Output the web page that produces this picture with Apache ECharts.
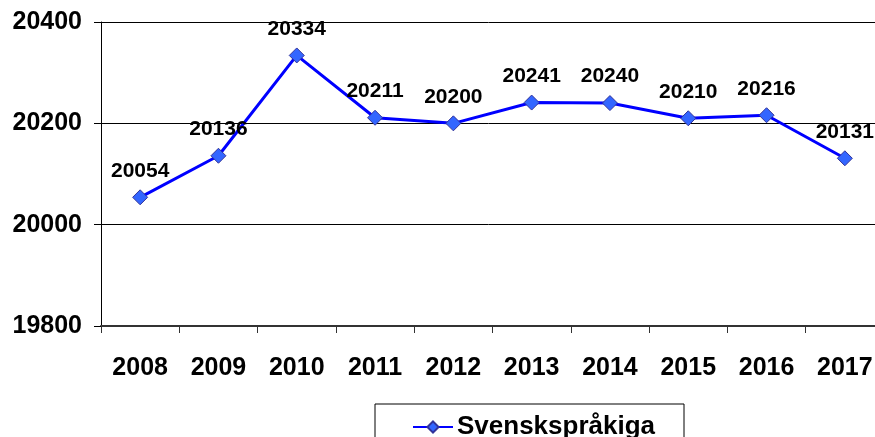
<!DOCTYPE html>
<html>
<head>
<meta charset="utf-8">
<script src="https://cdn.jsdelivr.net/npm/echarts@6/dist/echarts.min.js"></script>
<style>
  html, body { margin: 0; padding: 0; background: #fff; }
  #chart { width: 875px; height: 437px; }
</style>
</head>
<body>
<div id="chart"></div>
<script>
// data
const years = ['2008', '2009', '2010', '2011', '2012', '2013', '2014', '2015', '2016', '2017']
const svenskspråkiga = [20054, 20136, 20334, 20211, 20200, 20241, 20240, 20210, 20216, 20131]
const seriesName = 'Svenskspråkiga'

const font = '"Liberation Sans", Arial, sans-serif'

const chart = echarts.init(document.getElementById('chart'))
chart.setOption({
  animation: false,
  textStyle: { fontFamily: font },
  grid: {
    left: 101,
    right: -9,
    top: 22,
    bottom: 111,
    outerBoundsMode: 'none',
    containLabel: false
  },
  legend: {
    data: [seriesName],
    left: 375,
    top: 404,
    orient: 'horizontal',
    borderColor: '#000',
    borderWidth: 1,
    borderRadius: 0,
    padding: [10, 29, 20, 37],
    itemWidth: 40,
    itemHeight: 14,
    itemGap: 0,
    textStyle: {
      fontFamily: font,
      fontSize: 26,
      fontWeight: 'bold',
      color: '#000',
      padding: [0, 0, 0, -1]
    }
  },
  xAxis: {
    type: 'category',
    data: years,
    boundaryGap: true,
    axisLine: { lineStyle: { color: '#333', width: 2 } },
    axisTick: { show: true, length: 7, lineStyle: { color: '#333', width: 1 } },
    axisLabel: {
      margin: 30,
      fontSize: 25,
      fontWeight: 'bold',
      color: '#000',
      fontFamily: font
    },
    splitLine: { show: false }
  },
  yAxis: {
    type: 'value',
    min: 19800,
    max: 20400,
    interval: 200,
    axisLine: { show: true, lineStyle: { color: '#000', width: 1 } },
    axisTick: { show: true, length: 7, lineStyle: { color: '#000' } },
    axisLabel: {
      margin: 19,
      fontSize: 25,
      fontWeight: 'bold',
      color: '#000',
      fontFamily: font,
      formatter: v => String(v)
    },
    splitLine: { show: true, lineStyle: { color: '#000', width: 1 } }
  },
  series: [
    {
      name: seriesName,
      type: 'line',
      data: svenskspråkiga,
      symbol: 'diamond',
      symbolSize: 15,
      lineStyle: { color: '#0000ff', width: 3 },
      itemStyle: { color: '#3366ff', borderColor: '#333399', borderWidth: 1 },
      label: {
        show: true,
        position: 'top',
        distance: 8,
        fontSize: 21,
        fontWeight: 'bold',
        color: '#000',
        fontFamily: font
      }
    }
  ]
})
</script>
</body>
</html>
